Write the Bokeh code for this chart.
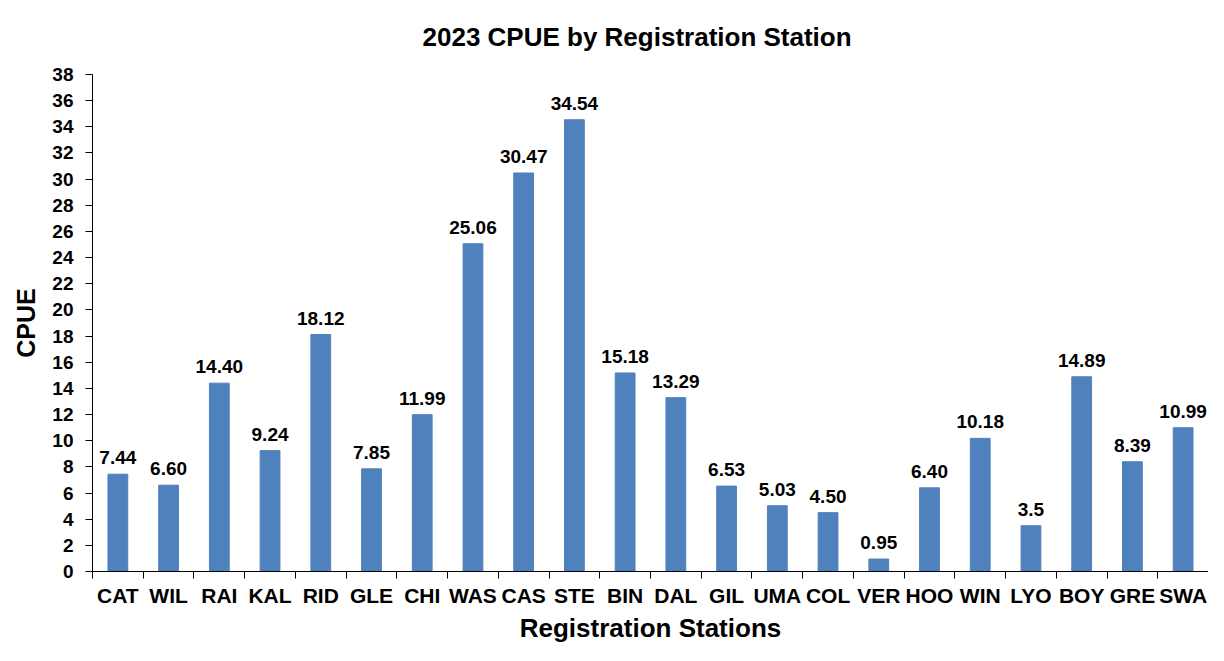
from bokeh.plotting import figure
from bokeh.models import Range1d, FixedTicker, ColumnDataSource, LabelSet
from bokeh.core.properties import value
from bokeh.embed import file_html
from bokeh.resources import INLINE

TITLE = "2023 CPUE by Registration Station"
stations = ["CAT", "WIL", "RAI", "KAL", "RID", "GLE", "CHI", "WAS", "CAS", "STE", "BIN",
            "DAL", "GIL", "UMA", "COL", "VER", "HOO", "WIN", "LYO", "BOY", "GRE", "SWA"]
cpue = [7.44, 6.60, 14.40, 9.24, 18.12, 7.85, 11.99, 25.06, 30.47, 34.54, 15.18,
        13.29, 6.53, 5.03, 4.50, 0.95, 6.40, 10.18, 3.5, 14.89, 8.39, 10.99]
cpue_labels = ["7.44", "6.60", "14.40", "9.24", "18.12", "7.85", "11.99", "25.06", "30.47", "34.54", "15.18",
               "13.29", "6.53", "5.03", "4.50", "0.95", "6.40", "10.18", "3.5", "14.89", "8.39", "10.99"]
y_ticks = list(range(0, 39, 2))

FONT = "Liberation Sans"
n = len(stations)
xs = [i + 0.5 for i in range(n)]
src = ColumnDataSource(dict(x=xs, top=cpue, lab=cpue_labels))

p = figure(width=1208, height=645, x_range=Range1d(0, n), y_range=Range1d(0, 38),
           output_backend="svg", toolbar_location=None,
           min_border_left=92, min_border_right=0, min_border_top=74, min_border_bottom=0)

p.title.text = TITLE
p.title.align = "left"
p.title.offset = 330
p.title.text_font = FONT
p.title.text_font_size = "26px"
p.title.text_font_style = "bold"
p.title.text_color = "black"
p.title.vertical_align = "top"
p.title.standoff = 42

p.vbar(x="x", top="top", width=0.39, bottom=0, source=src,
       fill_color="#4F81BD", line_color="#4F81BD")

labels = LabelSet(x="x", y="top", text="lab", source=src, text_align="center",
                  text_baseline="alphabetic", y_offset=10,
                  text_font=value(FONT), text_font_size=value("19px"),
                  text_font_style=value("bold"), text_color=value("black"))
p.add_layout(labels)

p.xgrid.grid_line_color = None
p.ygrid.grid_line_color = None
p.outline_line_color = None

xax = p.xaxis[0]
xax.ticker = FixedTicker(ticks=xs, minor_ticks=list(range(n + 1)))
xax.major_label_overrides = {x: s for x, s in zip(xs, stations)}
xax.major_tick_line_color = None
xax.major_tick_out = 0
xax.major_tick_in = 0
xax.minor_tick_out = 7
xax.minor_tick_in = 0
xax.minor_tick_line_color = "black"
xax.axis_line_color = "black"
xax.major_label_text_font = FONT
xax.major_label_text_font_size = "21px"
xax.major_label_text_font_style = "bold"
xax.major_label_text_color = "black"
xax.major_label_standoff = 5
xax.axis_label = "Registration Stations"
xax.axis_label_text_font = FONT
xax.axis_label_text_font_size = "26px"
xax.axis_label_text_font_style = "bold"
xax.axis_label_text_color = "black"
xax.axis_label_text_line_height = 1.0
xax.axis_label_standoff = 3

yax = p.yaxis[0]
yax.ticker = FixedTicker(ticks=y_ticks)
yax.major_tick_out = 7
yax.major_tick_in = 0
yax.minor_tick_line_color = None
yax.major_tick_line_color = "black"
yax.axis_line_color = "black"
yax.major_label_text_font = FONT
yax.major_label_text_font_size = "19px"
yax.major_label_text_font_style = "bold"
yax.major_label_text_color = "black"
yax.major_label_standoff = 12
yax.axis_label = "CPUE"
yax.axis_label_text_font = FONT
yax.axis_label_text_font_size = "25px"
yax.axis_label_text_font_style = "bold"
yax.axis_label_text_color = "black"
yax.axis_label_standoff = 9

open("out.html", "w").write(file_html(p, INLINE))
